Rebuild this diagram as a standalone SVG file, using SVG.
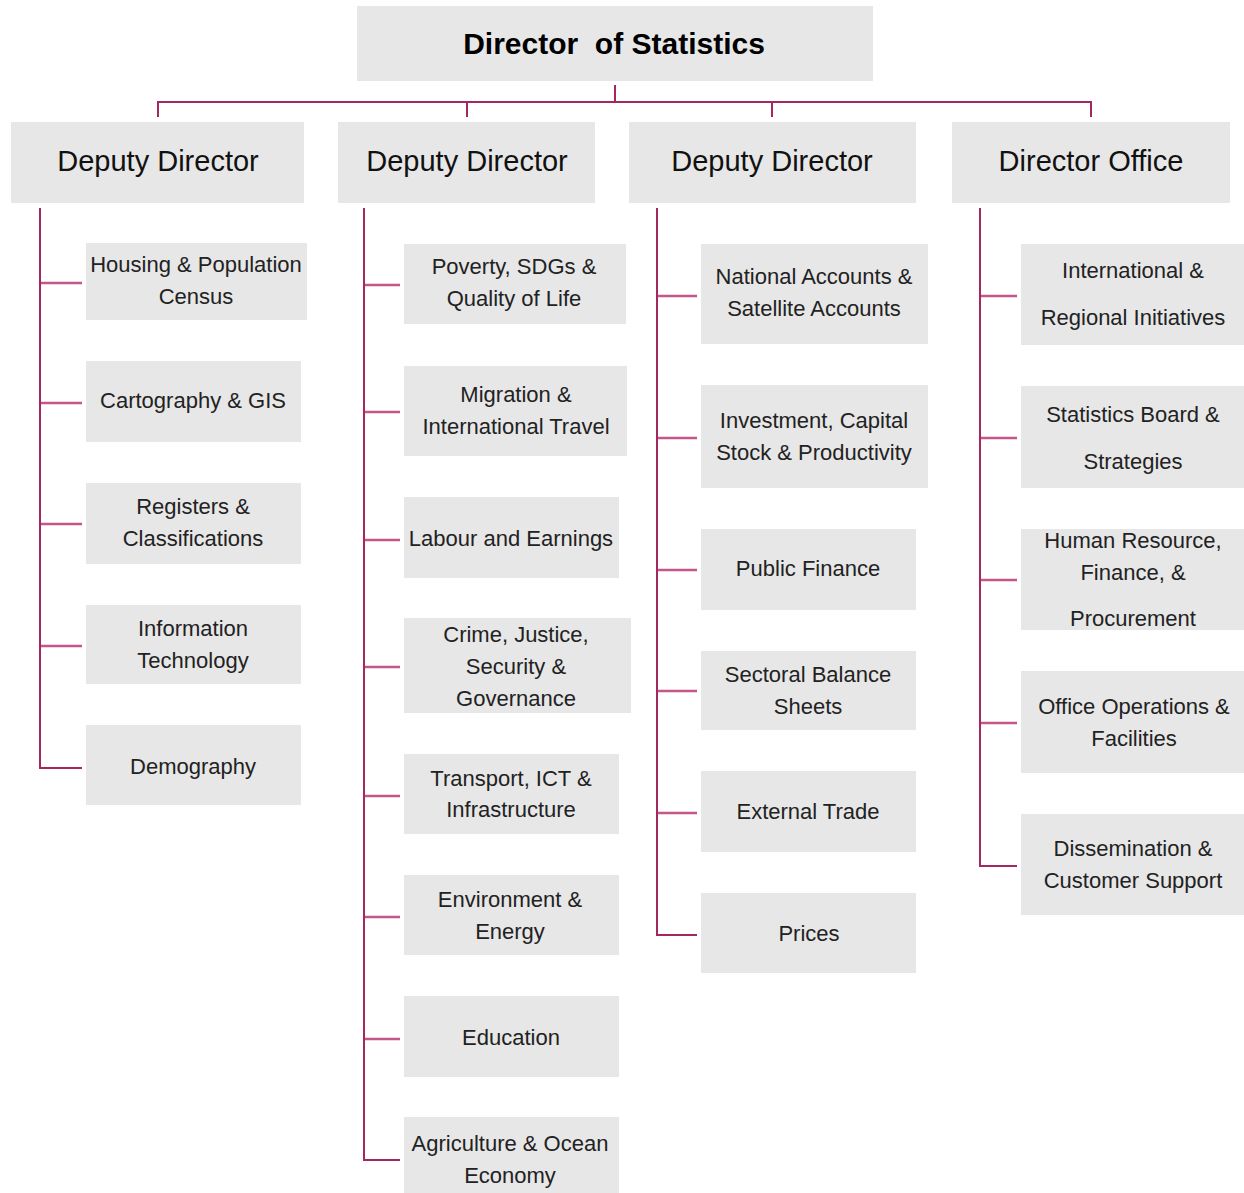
<svg xmlns="http://www.w3.org/2000/svg" width="1244" height="1193" viewBox="0 0 1244 1193">
<style>
.box{fill:#e7e7e7}
.t{font-family:"Liberation Sans",Arial,sans-serif;font-size:22px;fill:#222;text-anchor:middle}
.h{font-family:"Liberation Sans",Arial,sans-serif;font-size:29px;fill:#111;text-anchor:middle}
.title{font-family:"Liberation Sans",Arial,sans-serif;font-size:30px;font-weight:bold;fill:#000;text-anchor:middle}
.ln{fill:none;stroke:#a3285f;stroke-width:2}
.st{fill:none;stroke:#c4568a;stroke-width:2.5}
</style>
<rect width="1244" height="1193" fill="#fff"/>
<g id="connectors">
<path class="ln" d="M615 85V102M158 117V102H1091V117M467 102V117M772 102V117"/>
<path class="ln" d="M40 208V768H82"/>
<path class="ln" d="M364 208V1160H400"/>
<path class="ln" d="M657 208V935H697"/>
<path class="ln" d="M980 208V866H1017"/>
<path class="st" d="M41 283H82M41 403H82M41 524H82M41 646H82"/>
<path class="st" d="M365 285H400M365 412H400M365 540H400M365 667H400M365 796H400M365 917H400M365 1039H400"/>
<path class="st" d="M658 296H697M658 438H697M658 570H697M658 691H697M658 813H697"/>
<path class="st" d="M981 296H1017M981 438H1017M981 580H1017M981 723H1017"/>
</g>
<g id="director"><rect class="box" x="357" y="6" width="516" height="75"/><text class="title" x="614" y="54">Director&#160; of Statistics</text></g>
<g id="dd1"><rect class="box" x="11" y="122" width="293" height="81"/><text class="h" x="158" y="171">Deputy Director</text></g>
<g id="dd2"><rect class="box" x="338" y="122" width="257" height="81"/><text class="h" x="467" y="171">Deputy Director</text></g>
<g id="dd3"><rect class="box" x="629" y="122" width="287" height="81"/><text class="h" x="772" y="171">Deputy Director</text></g>
<g id="do"><rect class="box" x="952" y="122" width="278" height="81"/><text class="h" x="1091" y="171">Director Office</text></g>

<g id="c1a"><rect class="box" x="86" y="243" width="221" height="77"/><text class="t" x="196" y="272">Housing &amp; Population</text><text class="t" x="196" y="304">Census</text></g>
<g id="c1b"><rect class="box" x="86" y="361" width="215" height="81"/><text class="t" x="193" y="408">Cartography &amp; GIS</text></g>
<g id="c1c"><rect class="box" x="86" y="483" width="215" height="81"/><text class="t" x="193" y="514">Registers &amp;</text><text class="t" x="193" y="546">Classifications</text></g>
<g id="c1d"><rect class="box" x="86" y="605" width="215" height="79"/><text class="t" x="193" y="636">Information</text><text class="t" x="193" y="668">Technology</text></g>
<g id="c1e"><rect class="box" x="86" y="725" width="215" height="80"/><text class="t" x="193" y="774">Demography</text></g>

<g id="c2a"><rect class="box" x="404" y="244" width="222" height="80"/><text class="t" x="514" y="274">Poverty, SDGs &amp;</text><text class="t" x="514" y="306">Quality of Life</text></g>
<g id="c2b"><rect class="box" x="404" y="366" width="223" height="90"/><text class="t" x="516" y="402">Migration &amp;</text><text class="t" x="516" y="434">International Travel</text></g>
<g id="c2c"><rect class="box" x="404" y="497" width="215" height="81"/><text class="t" x="511" y="546">Labour and Earnings</text></g>
<g id="c2d"><rect class="box" x="404" y="618" width="227" height="95"/><text class="t" x="516" y="642">Crime, Justice,</text><text class="t" x="516" y="674">Security &amp;</text><text class="t" x="516" y="706">Governance</text></g>
<g id="c2e"><rect class="box" x="404" y="754" width="215" height="80"/><text class="t" x="511" y="786">Transport, ICT &amp;</text><text class="t" x="511" y="817">Infrastructure</text></g>
<g id="c2f"><rect class="box" x="404" y="875" width="215" height="80"/><text class="t" x="510" y="907">Environment &amp;</text><text class="t" x="510" y="939">Energy</text></g>
<g id="c2g"><rect class="box" x="404" y="996" width="215" height="81"/><text class="t" x="511" y="1045">Education</text></g>
<g id="c2h"><rect class="box" x="404" y="1117" width="215" height="76"/><text class="t" x="510" y="1151">Agriculture &amp; Ocean</text><text class="t" x="510" y="1183">Economy</text></g>

<g id="c3a"><rect class="box" x="701" y="244" width="227" height="100"/><text class="t" x="814" y="284">National Accounts &amp;</text><text class="t" x="814" y="316">Satellite Accounts</text></g>
<g id="c3b"><rect class="box" x="701" y="385" width="227" height="103"/><text class="t" x="814" y="428">Investment, Capital</text><text class="t" x="814" y="460">Stock &amp; Productivity</text></g>
<g id="c3c"><rect class="box" x="701" y="529" width="215" height="81"/><text class="t" x="808" y="576">Public Finance</text></g>
<g id="c3d"><rect class="box" x="701" y="651" width="215" height="79"/><text class="t" x="808" y="682">Sectoral Balance</text><text class="t" x="808" y="714">Sheets</text></g>
<g id="c3e"><rect class="box" x="701" y="771" width="215" height="81"/><text class="t" x="808" y="819">External Trade</text></g>
<g id="c3f"><rect class="box" x="701" y="893" width="215" height="80"/><text class="t" x="809" y="941">Prices</text></g>

<g id="c4a"><rect class="box" x="1021" y="244" width="223" height="101"/><text class="t" x="1133" y="278">International &amp;</text><text class="t" x="1133" y="325">Regional Initiatives</text></g>
<g id="c4b"><rect class="box" x="1021" y="386" width="223" height="102"/><text class="t" x="1133" y="422">Statistics Board &amp;</text><text class="t" x="1133" y="469">Strategies</text></g>
<g id="c4c"><rect class="box" x="1021" y="529" width="223" height="101"/><text class="t" x="1133" y="548">Human Resource,</text><text class="t" x="1133" y="580">Finance, &amp;</text><text class="t" x="1133" y="626">Procurement</text></g>
<g id="c4d"><rect class="box" x="1021" y="671" width="223" height="102"/><text class="t" x="1134" y="714">Office Operations &amp;</text><text class="t" x="1134" y="746">Facilities</text></g>
<g id="c4e"><rect class="box" x="1021" y="814" width="223" height="101"/><text class="t" x="1133" y="856">Dissemination &amp;</text><text class="t" x="1133" y="888">Customer Support</text></g>
</svg>
